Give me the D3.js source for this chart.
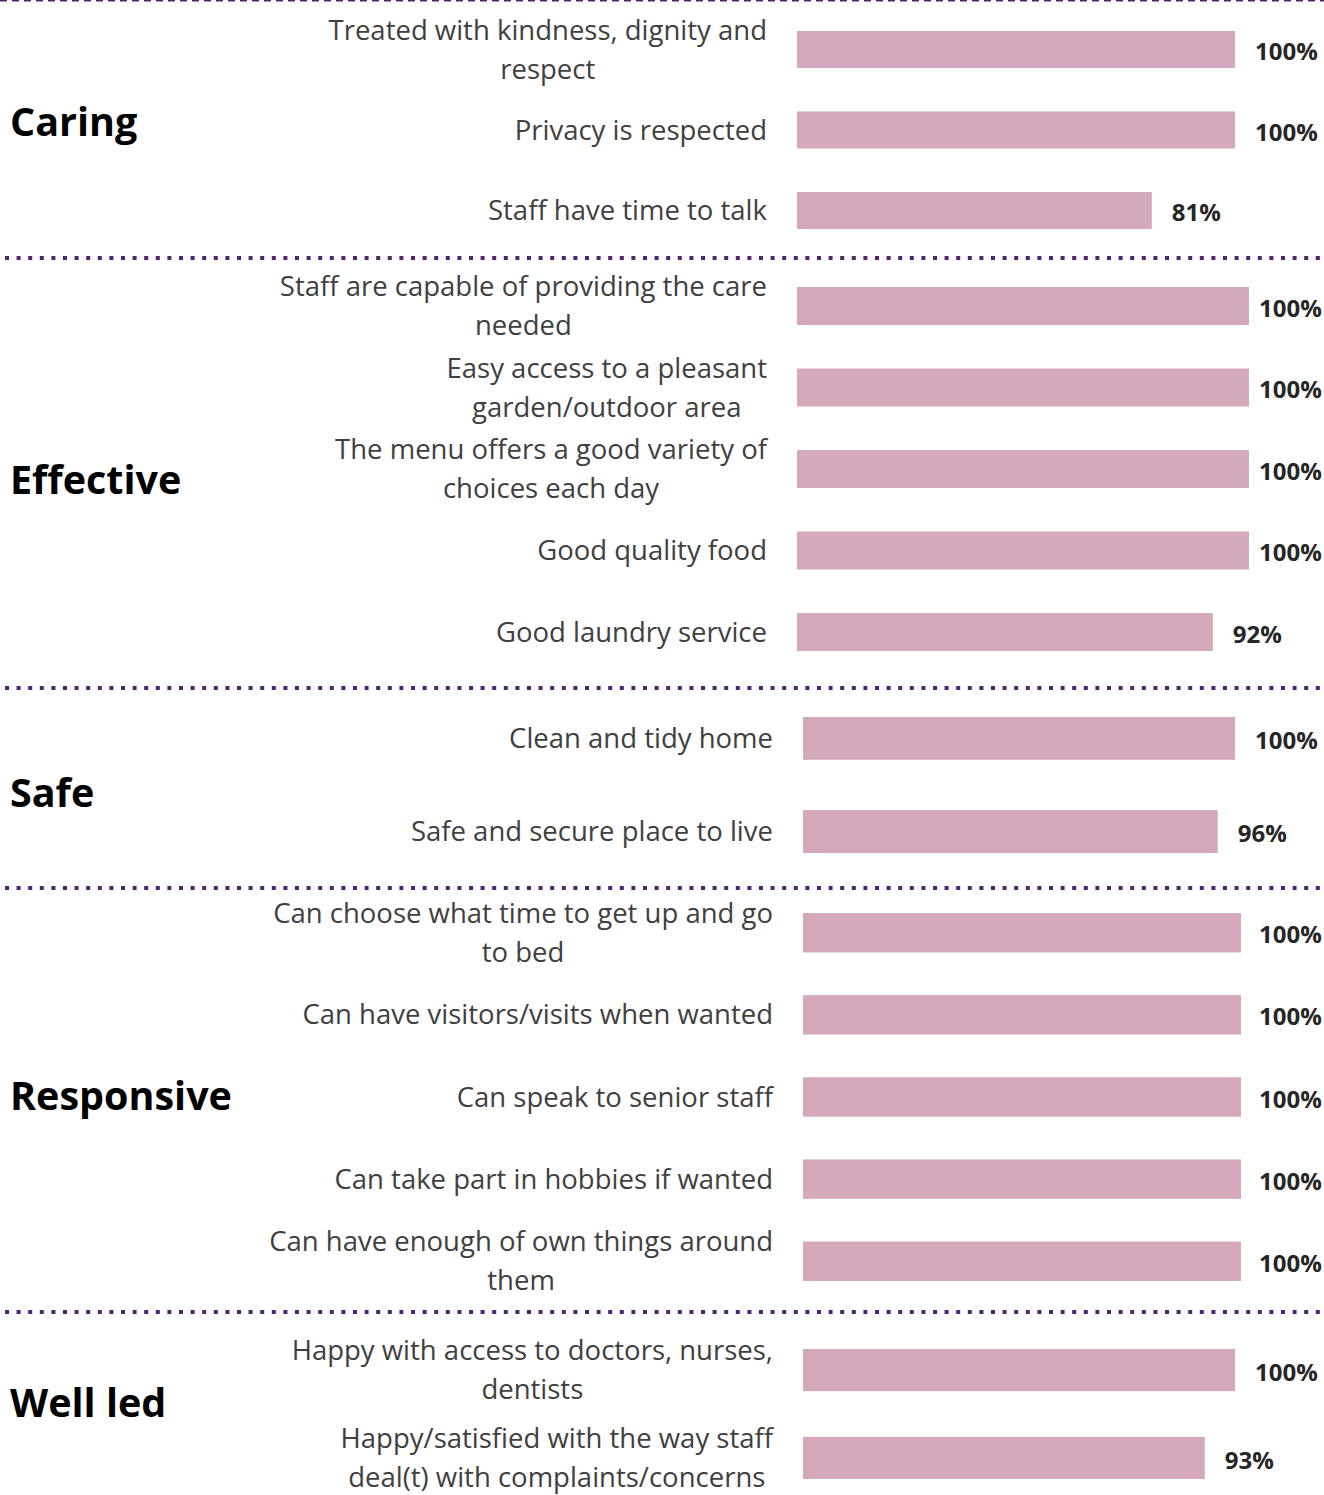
<!DOCTYPE html>
<html>
  <head>
    <meta charset="utf-8" />
    <title>Resident survey results</title>
    <script src="https://cdn.jsdelivr.net/npm/d3@7"></script>
    <style>
      body { margin: 0; background: #fff; }
      svg { display: block; }
      .cat { font-family: 'Open Sans'; font-size: 27.5px; fill: #404040; }
      .grp { font-family: 'Open Sans'; font-weight: bold; font-size: 39.5px; fill: #000; }
      .val { font-family: 'Open Sans'; font-weight: bold; font-size: 24px; fill: #262626; }
    </style>
  </head>
  <body>
    <svg id="chart"></svg>
    <script>
      const width = 1324
      const height = 1495

      // data
      const groupNames = ["Caring", "Effective", "Safe", "Responsive", "Well led"]

      const caringLabels = ["Treated with kindness, dignity and\nrespect", "Privacy is respected", "Staff have time to talk"]
      const caringValues = [100, 100, 81]

      const effectiveLabels = ["Staff are capable of providing the care\nneeded", "Easy access to a pleasant\ngarden/outdoor area",
        "The menu offers a good variety of\nchoices each day", "Good quality food", "Good laundry service"]
      const effectiveValues = [100, 100, 100, 100, 92]

      const safeLabels = ["Clean and tidy home", "Safe and secure place to live"]
      const safeValues = [100, 96]

      const responsiveLabels = ["Can choose what time to get up and go\nto bed", "Can have visitors/visits when wanted",
        "Can speak to senior staff", "Can take part in hobbies if wanted", "Can have enough of own things around\nthem"]
      const responsiveValues = [100, 100, 100, 100, 100]

      const wellLedLabels = ["Happy with access to doctors, nurses,\ndentists", "Happy/satisfied with the way staff\ndeal(t) with complaints/concerns"]
      const wellLedValues = [100, 93]

      // each panel was its own little chart in the original, so each has its own box
      const panels = [
        {labels: caringLabels, values: caringValues, top: 31, bottom: 229, pad: 0.54, x0: 797, x1: 1235, labelRight: 767, titleY: 122},
        {labels: effectiveLabels, values: effectiveValues, top: 287, bottom: 651, pad: 0.534, x0: 797, x1: 1249, labelRight: 767, titleY: 480},
        {labels: safeLabels, values: safeValues, top: 717, bottom: 853, pad: 0.54, x0: 803, x1: 1235, labelRight: 773, titleY: 793},
        {labels: responsiveLabels, values: responsiveValues, top: 913, bottom: 1281, pad: 0.52, x0: 803, x1: 1241, labelRight: 773, titleY: 1096},
        {labels: wellLedLabels, values: wellLedValues, top: 1349, bottom: 1479, pad: 0.52, x0: 803, x1: 1235, labelRight: 773, titleY: 1403},
      ]
      const separators = [258, 688, 888, 1312]
      const lineHeight = 39
      const valueMaxX = 1259  // value labels get pushed in so they stay on the page

      const svg = d3.select("#chart")
        .attr("width", width)
        .attr("height", height)
        .attr("viewBox", [0, 0, width, height])

      // top border is a plain dash, the rest are square dots
      svg.append("line")
        .attr("x1", 0).attr("x2", width)
        .attr("y1", 0).attr("y2", 0)
        .attr("stroke", "#54236f")
        .attr("stroke-width", 3)
        .attr("stroke-dasharray", "7 5")

      svg.append("g")
        .selectAll("line")
        .data(separators)
        .join("line")
          .attr("x1", 5).attr("x2", 1321)
          .attr("y1", d => d).attr("y2", d => d)
          .attr("stroke", "#52236f")
          .attr("stroke-width", 4)
          .attr("stroke-dasharray", "4 7.6")

      panels.forEach((p, gi) => {
        const rows = p.labels.map((label, i) => ({label, value: p.values[i]}))

        const x = d3.scaleLinear().domain([0, 100]).range([p.x0, p.x1])
        const y = d3.scaleBand().domain(p.labels).range([p.top, p.bottom]).paddingInner(p.pad)

        const g = svg.append("g")

        g.append("text")
          .attr("class", "grp")
          .attr("x", 10)
          .attr("y", p.titleY)
          .attr("dy", "0.36em")
          .text(groupNames[gi])

        g.selectAll("rect")
          .data(rows)
          .join("rect")
            .attr("x", x(0))
            .attr("y", d => y(d.label))
            .attr("width", d => x(d.value) - x(0))
            .attr("height", y.bandwidth())
            .attr("fill", "#d3a9bb")

        g.selectAll("text.val")
          .data(rows)
          .join("text")
            .attr("class", "val")
            .attr("x", d => Math.min(x(d.value) + 20, valueMaxX))
            .attr("y", d => y(d.label) + y.bandwidth() / 2 + 2)
            .attr("dy", "0.36em")
            .text(d => d.value + "%")

        // wrapped labels: block is right aligned, lines centred inside it
        const labels = g.selectAll("text.cat")
          .data(rows)
          .join("text")
            .attr("class", "cat")
            .attr("text-anchor", "middle")

        labels.each(function(d) {
          const lines = d.label.split("\n")
          const cy = y(d.label) + y.bandwidth() / 2
          const t = d3.select(this)
          lines.forEach((line, li) => {
            t.append("tspan")
              .attr("y", cy + (li - (lines.length - 1) / 2) * lineHeight)
              .attr("dy", "0.35em")
              .text(line)
          })
          let maxW = 0
          t.selectAll("tspan").each(function() { maxW = Math.max(maxW, this.getComputedTextLength()) })
          t.selectAll("tspan").attr("x", p.labelRight - maxW / 2)
        })
      })
    </script>
  </body>
</html>
